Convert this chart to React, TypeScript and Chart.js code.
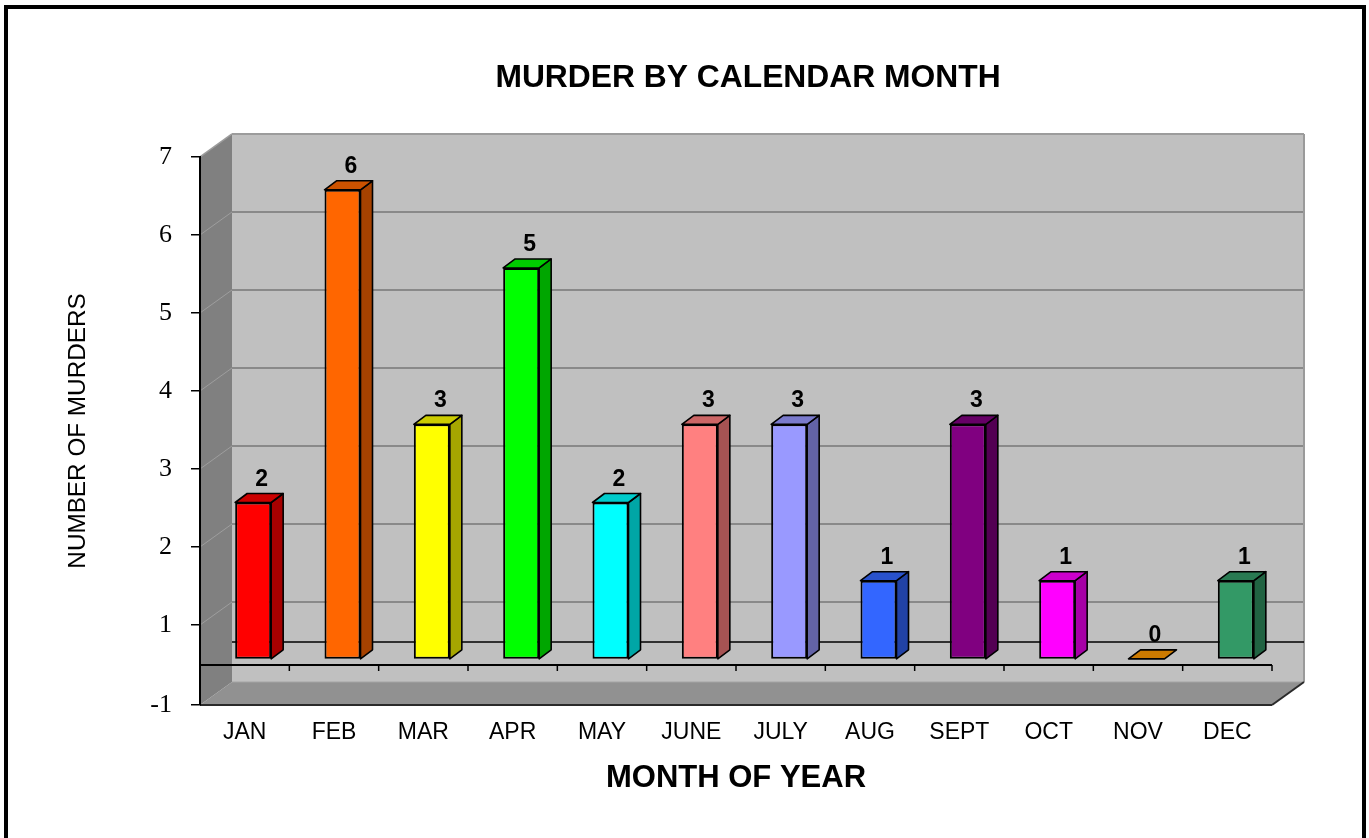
import React, { useEffect, useRef } from 'react';
import { Chart, registerables, LinearScale } from 'chart.js';

Chart.register(...registerables);

// ---------- data ----------
const MONTHS = ['JAN', 'FEB', 'MAR', 'APR', 'MAY', 'JUNE', 'JULY', 'AUG', 'SEPT', 'OCT', 'NOV', 'DEC'];
const MURDERS = [2, 6, 3, 5, 2, 3, 3, 1, 3, 1, 0, 1];
const Y_TICKS = [-1, 1, 2, 3, 4, 5, 6, 7];

const TITLE = 'MURDER BY CALENDAR MONTH';
const X_TITLE = 'MONTH OF YEAR';
const Y_TITLE = 'NUMBER OF MURDERS';

// ---------- styles ----------
const BAR_COLORS = ['#FF0000', '#FF6600', '#FFFF00', '#00FF00', '#00FFFF', '#FF8080', '#9999FF', '#3366FF', '#800080', '#FF00FF', '#FF9900', '#339966'];
const SANS = "'Liberation Sans', Arial, sans-serif";
const SERIF = "'Liberation Serif', 'Times New Roman', serif";

// axis configuration
const Y_MIN = -1;
const Y_MAX = 7;
const Y_BREAK = 1;
const Y_BREAK_FRAC = 0.854;
const BAR_MIN = -0.59;
const BAR_MAX = 6.42;

// 3D look
const WALL_DX = 32;
const WALL_DY = -23;
const BAR_DX = 12;
const BAR_DY = -9;
const BAR_SHIFT = 8.5;
const LABEL_DX = 8.5;

function shade(hex: string, f: number) {
  const n = parseInt(hex.slice(1), 16);
  const r = Math.round(((n >> 16) & 255) * f);
  const g = Math.round(((n >> 8) & 255) * f);
  const b = Math.round((n & 255) * f);
  return `rgb(${r},${g},${b})`;
}

class BrokenLinearScale extends LinearScale {
  static id = 'brokenLinear';
  static defaults = {};
  getPixelForValue(value: any) {
    if (value === null || value === undefined || isNaN(value)) return NaN;
    const top = this.top;
    const bottom = this.bottom;
    const split = top + (bottom - top) * Y_BREAK_FRAC;
    if (value >= Y_BREAK) return top + ((this.max - value) / (this.max - Y_BREAK)) * (split - top);
    return split + ((Y_BREAK - value) / (Y_BREAK - this.min)) * (bottom - split);
  }
  getValueForPixel(pixel: number) {
    const top = this.top;
    const bottom = this.bottom;
    const split = top + (bottom - top) * Y_BREAK_FRAC;
    if (pixel <= split) return this.max - ((pixel - top) / (split - top)) * (this.max - Y_BREAK);
    return Y_BREAK - ((pixel - split) / (bottom - split)) * (Y_BREAK - this.min);
  }
}
Chart.register(BrokenLinearScale);

function poly(ctx: CanvasRenderingContext2D, pts: number[][], fill: string | null, stroke?: string, lw?: number) {
  ctx.beginPath();
  ctx.moveTo(pts[0][0], pts[0][1]);
  for (let i = 1; i < pts.length; i++) ctx.lineTo(pts[i][0], pts[i][1]);
  ctx.closePath();
  if (fill) {
    ctx.fillStyle = fill;
    ctx.fill();
  }
  if (stroke) {
    ctx.strokeStyle = stroke;
    ctx.lineWidth = lw || 1;
    ctx.stroke();
  }
}

function line(ctx: CanvasRenderingContext2D, x1: number, y1: number, x2: number, y2: number, color: string, lw: number) {
  ctx.beginPath();
  ctx.moveTo(x1, y1);
  ctx.lineTo(x2, y2);
  ctx.strokeStyle = color;
  ctx.lineWidth = lw;
  ctx.stroke();
}

const wallsPlugin = {
  id: 'walls3d',
  beforeDraw(chart: any) {
    const { ctx, chartArea: a, scales } = chart;
    const ys = scales.y;
    const xs = scales.x;
    const L = a.left, R = a.right, T = a.top, B = a.bottom;
    ctx.save();
    // back wall
    ctx.fillStyle = '#C0C0C0';
    ctx.fillRect(L + WALL_DX, T + WALL_DY, R - L, B - T);
    // floor
    poly(ctx, [[L + WALL_DX, B + WALL_DY], [R + WALL_DX, B + WALL_DY], [R, B], [L, B]], '#919191');
    // side wall
    poly(ctx, [[L, T], [L + WALL_DX, T + WALL_DY], [L + WALL_DX, B + WALL_DY], [L, B]], '#808080');
    // gridlines on back wall and side wall
    Y_TICKS.forEach((v) => {
      if (v < Y_BREAK) return;
      const py = ys.getPixelForValue(v);
      if (v < Y_MAX) {
        line(ctx, L + WALL_DX, py + WALL_DY, R + WALL_DX, py + WALL_DY, '#898989', 2);
        line(ctx, L, py, L + WALL_DX, py + WALL_DY, 'rgba(170,170,170,0.7)', 1);
      }
    });
    // edges of the walls
    line(ctx, L + WALL_DX, T + WALL_DY, R + WALL_DX, T + WALL_DY, '#9c9c9c', 2);
    line(ctx, L, T, L + WALL_DX, T + WALL_DY, '#9c9c9c', 1.5);
    line(ctx, R + WALL_DX, T + WALL_DY, R + WALL_DX, B + WALL_DY, '#9a9a9a', 2);
    line(ctx, L + WALL_DX, B + WALL_DY, R + WALL_DX, B + WALL_DY, '#a4a4a4', 1);
    // floor outline
    line(ctx, L, B, R, B, '#2a2a2a', 2);
    line(ctx, R, B, R + WALL_DX, B + WALL_DY, '#2a2a2a', 2);
    // zero plane lines
    const y0 = ys.getPixelForValue(0);
    line(ctx, L + WALL_DX, y0 + WALL_DY, R + WALL_DX, y0 + WALL_DY, '#000', 1.5);
    line(ctx, L, y0, R, y0, '#000', 2);
    for (let i = 0; i <= MONTHS.length; i++) {
      const px = xs.getPixelForValue(i - 0.5);
      line(ctx, px, y0, px, y0 + 6, '#000', 1.5);
    }
    ctx.restore();
  },
  beforeDatasetDraw(chart: any) {
    chart.ctx.save();
    chart.ctx.translate(BAR_SHIFT, 0);
  },
  afterDatasetDraw(chart: any, args: any) {
    const ctx = chart.ctx;
    const meta = args.meta;
    ctx.lineJoin = 'round';
    meta.data.forEach((el: any, i: number) => {
      const { x, y, base, width } = el.getProps(['x', 'y', 'base', 'width'], true);
      const left = x - width / 2;
      const right = x + width / 2;
      const top = Math.min(y, base);
      const bottom = Math.max(y, base);
      const color = BAR_COLORS[i];
      if (bottom - top > 0.5) {
        poly(ctx, [[right, top], [right + BAR_DX, top + BAR_DY], [right + BAR_DX, bottom + BAR_DY], [right, bottom]], shade(color, 0.65), '#000', 1.6);
      }
      poly(ctx, [[left, top], [left + BAR_DX, top + BAR_DY], [right + BAR_DX, top + BAR_DY], [right, top]], shade(color, 0.8), '#000', 1.6);
      ctx.fillStyle = '#000';
      ctx.font = `bold 23px ${SANS}`;
      ctx.textAlign = 'center';
      ctx.textBaseline = 'alphabetic';
      ctx.fillText(String(MURDERS[i]), x + LABEL_DX, top + BAR_DY - 8);
    });
    ctx.restore();
  },
};

export default function App() {
  const ref = useRef<HTMLCanvasElement>(null);
  useEffect(() => {
    if (!ref.current) return;
    const chart = new Chart(ref.current, {
      type: 'bar',
      data: {
        labels: MONTHS,
        datasets: [
          {
            data: MURDERS,
            backgroundColor: BAR_COLORS,
            borderColor: '#000',
            borderWidth: 2,
            borderSkipped: false,
            barPercentage: 0.403,
            categoryPercentage: 1,
            xAxisID: 'x',
            yAxisID: 'yb',
            clip: false,
          } as any,
        ],
      },
      options: {
        responsive: false,
        animation: false,
        events: [],
        layout: { padding: 0 },
        plugins: {
          legend: { display: false },
          tooltip: { enabled: false },
          title: {
            display: true,
            text: TITLE,
            color: '#000',
            font: { family: SANS, size: 31.8, weight: 'bold', lineHeight: 1.2 },
            padding: { top: 58.9, bottom: 59.9 },
          },
        },
        scales: {
          x: {
            type: 'category',
            position: 'bottom',
            grid: { display: false, drawTicks: false },
            border: { display: false },
            ticks: { color: '#000', font: { family: SANS, size: 23 }, padding: 14, maxRotation: 0, autoSkip: false },
            title: {
              display: true,
              text: X_TITLE,
              color: '#000',
              font: { family: SANS, size: 31, weight: 'bold', lineHeight: 1.2 },
              padding: { top: 0, bottom: 41.4 },
            },
            afterFit: (s: any) => {
              s.height = 133;
            },
          },
          y: {
            type: 'brokenLinear' as any,
            position: 'left',
            min: Y_MIN,
            max: Y_MAX,
            afterBuildTicks: (s: any) => {
              s.ticks = Y_TICKS.map((v) => ({ value: v }));
            },
            grid: { display: true, drawOnChartArea: false, drawTicks: true, tickLength: 9, color: '#000', lineWidth: 1.5 },
            border: { display: true, color: '#000', width: 2 },
            ticks: { color: '#000', font: { family: SERIF, size: 26 }, padding: 19 },
            title: {
              display: true,
              text: Y_TITLE,
              color: '#000',
              font: { family: SANS, size: 24.3, lineHeight: 1.2 },
              padding: { top: 63.4, bottom: 0 },
            },
            afterFit: (s: any) => {
              s.width = 200;
            },
          } as any,
          yb: {
            type: 'linear',
            position: 'right',
            min: BAR_MIN,
            max: BAR_MAX,
            grid: { display: false, drawTicks: false },
            border: { display: false },
            ticks: { display: false },
            afterFit: (s: any) => {
              s.width = 224;
            },
          },
        },
      },
      plugins: [wallsPlugin as any],
    });
    return () => chart.destroy();
  }, []);

  return (
    <div style={{ position: 'fixed', left: 0, top: 0, width: 1369, height: 838, overflow: 'hidden', background: '#fff' }}>
      <div style={{ position: 'absolute', left: 4, top: 5, width: 1354, height: 900, border: '4px solid #000' }} />
      <canvas ref={ref} width={1496} height={838} style={{ position: 'absolute', left: 0, top: 0, width: 1496, height: 838 }} />
    </div>
  );
}
